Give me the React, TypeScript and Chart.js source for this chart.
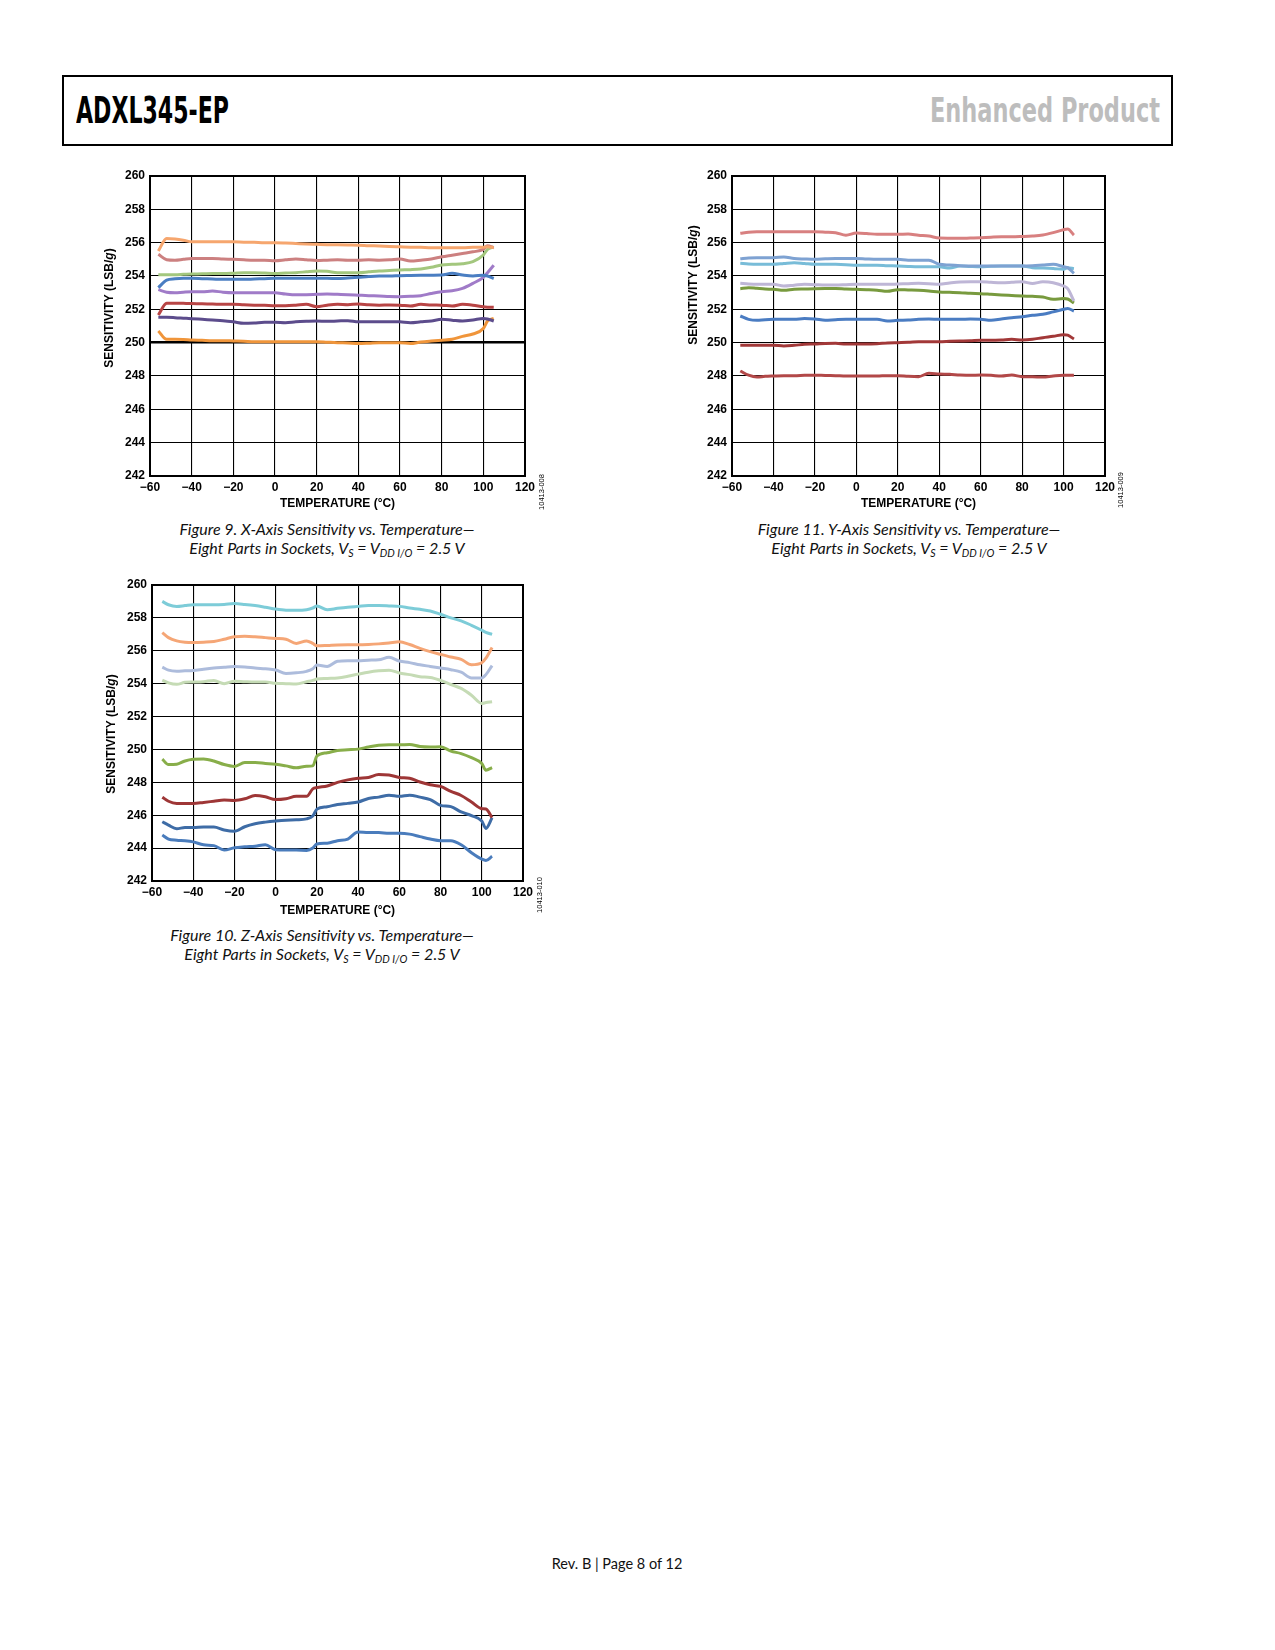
import React, { useEffect, useLayoutEffect, useRef } from 'react';
import { Chart, registerables } from 'chart.js';
Chart.register(...registerables);

// temperature sample points (°C)
const TEMPS = [-56, -52, -48, -44, -40, -35, -30, -25, -20, -15, -10, -5, 0, 5, 10, 15, 20, 25, 30, 35, 40, 45, 50, 55, 60, 65, 70, 75, 80, 85, 90, 95, 100, 102, 105];
const TEMPS_Z = [-55, -52, -48, -44, -40, -35, -30, -25, -20, -15, -10, -5, 0, 5, 10, 15, 18, 20, 25, 30, 35, 40, 45, 50, 55, 60, 65, 70, 75, 80, 85, 90, 95, 100, 102, 105];

const X_TICKS = [-60, -40, -20, 0, 20, 40, 60, 80, 100, 120];
const Y_TICKS = [242, 244, 246, 248, 250, 252, 254, 256, 258, 260];

// Figure 9, X axis (LSB/g)
const X1 = [255.5, 256.25, 256.22, 256.15, 256.05, 256.05, 256.05, 256.05, 256.05, 256.03, 256.02, 256.0, 256.0, 255.98, 255.95, 255.92, 255.9, 255.88, 255.87, 255.86, 255.85, 255.82, 255.8, 255.77, 255.75, 255.73, 255.72, 255.7, 255.7, 255.7, 255.7, 255.72, 255.73, 255.75, 255.7];
const X2 = [255.3, 254.98, 254.95, 255.0, 255.05, 255.05, 255.05, 255.02, 255.0, 254.97, 254.95, 254.95, 254.92, 254.97, 255.02, 254.98, 254.93, 254.95, 254.97, 254.95, 254.95, 254.97, 254.95, 254.97, 255.02, 254.9, 254.95, 255.02, 255.15, 255.25, 255.35, 255.45, 255.6, 255.82, 255.7];
const X3 = [254.08, 254.08, 254.08, 254.1, 254.12, 254.13, 254.15, 254.15, 254.17, 254.2, 254.2, 254.18, 254.15, 254.18, 254.2, 254.25, 254.3, 254.28, 254.2, 254.2, 254.2, 254.25, 254.3, 254.33, 254.36, 254.38, 254.42, 254.52, 254.66, 254.7, 254.74, 254.86, 255.26, 255.6, 255.75];
const X4 = [253.3, 253.75, 253.83, 253.86, 253.86, 253.84, 253.82, 253.8, 253.8, 253.8, 253.82, 253.84, 253.86, 253.86, 253.86, 253.86, 253.86, 253.86, 253.85, 253.88, 253.92, 253.97, 254.0, 254.0, 254.02, 254.03, 254.04, 254.05, 254.06, 254.16, 254.06, 254.0, 254.05, 254.0, 253.85];
const X5 = [253.18, 253.03, 253.0, 253.03, 253.05, 253.05, 253.1, 253.03, 253.0, 253.0, 253.0, 253.0, 253.0, 252.92, 252.87, 252.88, 252.9, 252.92, 252.9, 252.88, 252.85, 252.82, 252.8, 252.77, 252.76, 252.78, 252.82, 252.95, 253.06, 253.12, 253.26, 253.56, 253.92, 254.2, 254.65];
const X6 = [251.66, 252.36, 252.37, 252.36, 252.35, 252.33, 252.32, 252.3, 252.3, 252.27, 252.25, 252.24, 252.22, 252.22, 252.25, 252.3, 252.16, 252.25, 252.3, 252.28, 252.32, 252.27, 252.25, 252.26, 252.25, 252.2, 252.3, 252.26, 252.25, 252.2, 252.3, 252.25, 252.15, 252.13, 252.12];
const X7 = [251.52, 251.52, 251.5, 251.47, 251.44, 251.4, 251.36, 251.32, 251.25, 251.16, 251.18, 251.22, 251.22, 251.2, 251.25, 251.28, 251.3, 251.28, 251.3, 251.32, 251.25, 251.26, 251.25, 251.26, 251.25, 251.2, 251.25, 251.3, 251.4, 251.35, 251.3, 251.36, 251.45, 251.42, 251.3];
const X8 = [250.7, 250.2, 250.2, 250.19, 250.16, 250.14, 250.12, 250.12, 250.1, 250.08, 250.05, 250.06, 250.06, 250.05, 250.05, 250.06, 250.06, 250.03, 250.0, 249.98, 249.95, 249.97, 250.0, 250.0, 250.0, 249.95, 250.04, 250.1, 250.15, 250.2, 250.38, 250.52, 250.85, 251.3, 251.45];
const X_COLORS = ['#f6a66e', '#cc8080', '#a3c77e', '#4a7ec2', '#a07bc8', '#b84545', '#5c4c8c', '#f0953a'];

// Figure 11, Y axis (LSB/g)
const Y1 = [256.56, 256.62, 256.65, 256.66, 256.66, 256.65, 256.65, 256.65, 256.65, 256.63, 256.6, 256.45, 256.58, 256.55, 256.5, 256.5, 256.5, 256.52, 256.45, 256.4, 256.28, 256.27, 256.26, 256.28, 256.3, 256.33, 256.35, 256.35, 256.37, 256.4, 256.46, 256.6, 256.78, 256.82, 256.45];
const Y2 = [255.04, 255.08, 255.1, 255.1, 255.1, 255.14, 255.05, 255.02, 255.0, 255.03, 255.05, 255.05, 255.05, 255.02, 255.0, 255.0, 255.0, 254.95, 254.95, 254.95, 254.7, 254.66, 254.62, 254.6, 254.6, 254.6, 254.6, 254.6, 254.6, 254.62, 254.66, 254.7, 254.56, 254.5, 254.16];
const Y3 = [254.76, 254.72, 254.7, 254.7, 254.7, 254.75, 254.8, 254.75, 254.7, 254.7, 254.7, 254.68, 254.64, 254.64, 254.65, 254.62, 254.6, 254.57, 254.55, 254.55, 254.55, 254.48, 254.6, 254.57, 254.55, 254.58, 254.6, 254.6, 254.6, 254.5, 254.48, 254.45, 254.4, 254.5, 254.44];
const Y4 = [253.56, 253.52, 253.5, 253.5, 253.5, 253.4, 253.45, 253.5, 253.48, 253.46, 253.46, 253.48, 253.5, 253.5, 253.5, 253.5, 253.52, 253.54, 253.56, 253.54, 253.5, 253.58, 253.64, 253.65, 253.65, 253.62, 253.6, 253.62, 253.65, 253.55, 253.65, 253.6, 253.4, 253.24, 252.5];
const Y5 = [253.24, 253.3, 253.26, 253.22, 253.2, 253.14, 253.2, 253.22, 253.24, 253.25, 253.25, 253.22, 253.2, 253.18, 253.15, 253.08, 253.18, 253.16, 253.14, 253.1, 253.04, 253.02, 253.0, 252.96, 252.94, 252.9, 252.86, 252.83, 252.8, 252.78, 252.74, 252.6, 252.65, 252.62, 252.38];
const Y6 = [251.6, 251.4, 251.34, 251.38, 251.4, 251.4, 251.4, 251.45, 251.42, 251.35, 251.38, 251.4, 251.4, 251.4, 251.4, 251.3, 251.34, 251.36, 251.4, 251.42, 251.4, 251.4, 251.4, 251.42, 251.4, 251.34, 251.42, 251.5, 251.55, 251.64, 251.7, 251.85, 252.0, 252.05, 251.9];
const Y7 = [249.84, 249.84, 249.84, 249.85, 249.85, 249.8, 249.84, 249.9, 249.92, 249.95, 249.96, 249.92, 249.92, 249.92, 249.94, 249.98, 250.0, 250.02, 250.05, 250.06, 250.06, 250.08, 250.1, 250.12, 250.15, 250.14, 250.16, 250.2, 250.16, 250.2, 250.3, 250.38, 250.48, 250.45, 250.22];
const Y8 = [248.3, 248.05, 247.94, 247.98, 248.0, 248.02, 248.02, 248.04, 248.05, 248.03, 248.02, 248.0, 248.0, 248.0, 248.0, 248.02, 248.02, 247.98, 247.96, 248.16, 248.12, 248.1, 248.06, 248.04, 248.06, 248.04, 248.0, 248.06, 247.96, 247.95, 247.94, 248.0, 248.04, 248.04, 248.05];
const Y_COLORS = ['#d88080', '#7ea2d2', '#78bcd8', '#beb6d6', '#789a3e', '#4a7cc2', '#a23838', '#b24848'];

// Figure 10, Z axis (LSB/g)
const Z1 = [259.0, 258.8, 258.7, 258.75, 258.8, 258.8, 258.8, 258.82, 258.87, 258.82, 258.75, 258.65, 258.54, 258.47, 258.46, 258.5, 258.6, 258.72, 258.5, 258.58, 258.65, 258.7, 258.75, 258.75, 258.73, 258.7, 258.6, 258.52, 258.42, 258.22, 258.0, 257.82, 257.55, 257.25, 257.12, 257.0];
const Z2 = [257.1, 256.8, 256.6, 256.52, 256.5, 256.52, 256.56, 256.7, 256.86, 256.88, 256.85, 256.8, 256.75, 256.7, 256.45, 256.6, 256.45, 256.3, 256.32, 256.35, 256.36, 256.36, 256.38, 256.42, 256.48, 256.55, 256.38, 256.15, 255.95, 255.78, 255.62, 255.48, 255.15, 255.27, 255.55, 256.2];
const Z3 = [255.0, 254.82, 254.76, 254.78, 254.8, 254.88, 254.95, 255.0, 255.05, 255.02, 254.95, 254.9, 254.83, 254.62, 254.66, 254.75, 254.9, 255.13, 255.05, 255.36, 255.4, 255.4, 255.43, 255.45, 255.6, 255.38, 255.28, 255.15, 255.05, 254.95, 254.85, 254.7, 254.35, 254.35, 254.55, 255.1];
const Z4 = [254.22, 254.05, 253.96, 254.08, 254.1, 254.12, 254.2, 254.0, 254.15, 254.12, 254.1, 254.1, 254.02, 254.0, 253.98, 254.12, 254.2, 254.28, 254.32, 254.35, 254.45, 254.58, 254.7, 254.78, 254.82, 254.65, 254.55, 254.42, 254.38, 254.2, 253.95, 253.71, 253.3, 252.8, 252.85, 252.9];
const Z5 = [249.41, 249.08, 249.1, 249.3, 249.4, 249.42, 249.3, 249.08, 248.97, 249.2, 249.2, 249.15, 249.1, 249.0, 248.88, 248.98, 249.0, 249.6, 249.8, 249.94, 249.98, 250.02, 250.15, 250.26, 250.28, 250.28, 250.3, 250.18, 250.15, 250.16, 249.9, 249.75, 249.5, 249.15, 248.74, 248.9];
const Z6 = [247.1, 246.85, 246.72, 246.72, 246.72, 246.78, 246.85, 246.92, 246.9, 247.0, 247.2, 247.12, 246.95, 247.0, 247.15, 247.15, 247.6, 247.68, 247.78, 248.0, 248.15, 248.25, 248.3, 248.47, 248.45, 248.3, 248.25, 248.02, 247.85, 247.75, 247.45, 247.2, 246.8, 246.4, 246.38, 245.85];
const Z7 = [245.6, 245.4, 245.18, 245.25, 245.25, 245.28, 245.28, 245.1, 245.02, 245.3, 245.48, 245.58, 245.65, 245.7, 245.72, 245.78, 245.95, 246.37, 246.52, 246.65, 246.72, 246.8, 247.02, 247.1, 247.22, 247.15, 247.22, 247.1, 246.95, 246.6, 246.52, 246.2, 245.98, 245.65, 245.2, 245.85];
const Z8 = [244.8, 244.55, 244.48, 244.45, 244.38, 244.2, 244.15, 243.88, 244.02, 244.08, 244.12, 244.2, 243.9, 243.88, 243.88, 243.86, 244.0, 244.25, 244.3, 244.45, 244.55, 244.98, 244.95, 244.95, 244.9, 244.9, 244.85, 244.7, 244.55, 244.45, 244.45, 244.2, 243.72, 243.33, 243.25, 243.5];
const Z_COLORS = ['#7dccd8', '#f5a676', '#adbcdc', '#c5dbb5', '#88ae4a', '#9e3636', '#3e6ca6', '#4a7cbc'];

const AXIS_FONT = '"Liberation Sans", Arial, Helvetica, sans-serif';
const CAPTION_FONT = 'Lato, "Open Sans", sans-serif';
const HEAD_FONT = '"Liberation Sans Narrow", "DejaVu Sans Condensed", "Liberation Sans", sans-serif';

const Y_AXIS_W = 60;
const X_AXIS_H = 42;
const PAD_TOP = 14;
const PAD_RIGHT = 26;

type Rect = { left: number; top: number; width: number; height: number };
type Pt = { x: number; y: number };

type ChartProps = {
  temps: number[];
  series: number[][];
  colors: string[];
  plot: Rect;
  yTitle: Pt;
  code: string;
  codePos: Pt;
  xTitleY: number;
  boldLine?: number;
};

const fmtTick = (v: number) => (v < 0 ? '\u2212' + Math.abs(v) : String(v));

const SensitivityChart = ({ temps, series, colors, plot, yTitle, code, codePos, xTitleY, boldLine }: ChartProps) => {
  const ref = useRef<HTMLCanvasElement>(null);
  const cLeft = plot.left - Y_AXIS_W;
  const cTop = plot.top - PAD_TOP;
  const cW = Y_AXIS_W + plot.width + PAD_RIGHT;
  const cH = PAD_TOP + plot.height + X_AXIS_H;

  useEffect(() => {
    if (!ref.current) return;
    const extras = {
      id: 'extras',
      afterDraw(chart: Chart) {
        const { ctx, chartArea } = chart;
        ctx.save();
        ctx.strokeStyle = '#000';
        ctx.lineWidth = 2;
        ctx.strokeRect(chartArea.left, chartArea.top, chartArea.right - chartArea.left, chartArea.bottom - chartArea.top);

        // y title with italic g
        const parts = [
          { t: 'SENSITIVITY (LSB/', f: `bold 12px ${AXIS_FONT}` },
          { t: 'g', f: `italic bold 12px ${AXIS_FONT}` },
          { t: ')', f: `bold 12px ${AXIS_FONT}` },
        ];
        let total = 0;
        parts.forEach((p) => {
          ctx.font = p.f;
          total += ctx.measureText(p.t).width;
        });
        ctx.translate(yTitle.x - cLeft, yTitle.y - cTop);
        ctx.rotate(-Math.PI / 2);
        ctx.fillStyle = '#000';
        ctx.textBaseline = 'middle';
        ctx.textAlign = 'left';
        let x = -total / 2;
        parts.forEach((p) => {
          ctx.font = p.f;
          ctx.fillText(p.t, x, 0);
          x += ctx.measureText(p.t).width;
        });
        ctx.restore();

        ctx.save();
        ctx.translate(codePos.x - cLeft, codePos.y - cTop);
        ctx.rotate(-Math.PI / 2);
        ctx.font = `7.5px ${AXIS_FONT}`;
        ctx.fillStyle = '#000';
        ctx.textAlign = 'center';
        ctx.textBaseline = 'middle';
        ctx.fillText(code, 0, 0);
        ctx.restore();
      },
    };

    const titleOffset = xTitleY - (plot.top + plot.height);
    const chart = new Chart(ref.current, {
      type: 'line',
      data: {
        datasets: series.map((s, i) => ({
          data: temps.map((t, k) => ({ x: t, y: s[k] })),
          borderColor: colors[i],
          backgroundColor: colors[i],
          borderWidth: 3,
          pointRadius: 0,
          cubicInterpolationMode: 'monotone',
          fill: false,
        })),
      },
      options: {
        animation: false,
        responsive: false,
        maintainAspectRatio: false,
        events: [],
        layout: { padding: { left: 0, top: PAD_TOP, right: PAD_RIGHT, bottom: 0 } },
        plugins: { legend: { display: false }, tooltip: { enabled: false } },
        scales: {
          x: {
            type: 'linear',
            min: -60,
            max: 120,
            afterBuildTicks: (axis: any) => {
              axis.ticks = X_TICKS.map((v) => ({ value: v }));
            },
            afterFit: (axis: any) => {
              axis.height = X_AXIS_H;
            },
            ticks: {
              color: '#000',
              font: { family: AXIS_FONT, size: 12, weight: 'bold' },
              padding: 4,
              maxRotation: 0,
              autoSkip: false,
              callback: (v: any) => fmtTick(Number(v)),
            },
            grid: { color: '#000', lineWidth: 1.1, drawTicks: false },
            border: { display: false },
            title: {
              display: true,
              text: 'TEMPERATURE (\u00B0C)',
              color: '#000',
              font: { family: AXIS_FONT, size: 12, weight: 'bold' },
              padding: { top: 0, bottom: X_AXIS_H - 7.2 - titleOffset },
            },
          },
          y: {
            type: 'linear',
            min: 242,
            max: 260,
            afterBuildTicks: (axis: any) => {
              axis.ticks = Y_TICKS.map((v) => ({ value: v }));
            },
            afterFit: (axis: any) => {
              axis.width = Y_AXIS_W;
            },
            ticks: {
              color: '#000',
              font: { family: AXIS_FONT, size: 12, weight: 'bold' },
              padding: 5,
              autoSkip: false,
            },
            grid: {
              color: '#000',
              drawTicks: false,
              lineWidth: (c: any) => (boldLine !== undefined && c.tick && c.tick.value === boldLine ? 2.4 : 1.1),
            },
            border: { display: false },
          },
        },
      },
      plugins: [extras],
    });
    return () => chart.destroy();
    // eslint-disable-next-line
  }, []);

  return (
    <canvas
      ref={ref}
      width={cW}
      height={cH}
      style={{ position: 'absolute', left: cLeft, top: cTop, width: cW, height: cH }}
    />
  );
};

type FitProps = { text: string; left: number; top: number; width: number; style: React.CSSProperties };

// stretches a single line of text to a measured width
const FitText = ({ text, left, top, width, style }: FitProps) => {
  const ref = useRef<HTMLSpanElement>(null);
  useLayoutEffect(() => {
    const el = ref.current;
    if (!el) return;
    el.style.transform = 'none';
    const w = el.getBoundingClientRect().width;
    if (w > 0) el.style.transform = `scaleX(${width / w})`;
  }, [text, width]);
  return (
    <span
      ref={ref}
      style={{ position: 'absolute', left, top, whiteSpace: 'nowrap', transformOrigin: 'left center', lineHeight: 1, ...style }}
    >
      {text}
    </span>
  );
};

const subStyle: React.CSSProperties = { fontSize: '0.66em', verticalAlign: '-0.25em', lineHeight: 0 };

const Caption = ({ cx, top, fig, axis }: { cx: number; top: number; fig: number; axis: string }) => (
  <div
    style={{
      position: 'absolute',
      left: cx - 200,
      top,
      width: 400,
      textAlign: 'center',
      fontFamily: CAPTION_FONT,
      fontStyle: 'italic',
      fontSize: 16,
      lineHeight: '18.5px',
      color: '#111',
    }}
  >
    <div>Figure {fig}. {axis}-Axis Sensitivity vs. Temperature—</div>
    <div>
      Eight Parts in Sockets, V<sub style={subStyle}>S</sub> = V<sub style={subStyle}>DD I/O</sub> = 2.5 V
    </div>
  </div>
);

const App = () => {
  return (
    <div style={{ position: 'absolute', left: 0, top: 0, width: 1275, height: 1650, background: '#fff', overflow: 'hidden' }}>
      <div
        style={{
          position: 'absolute',
          left: 62,
          top: 75,
          width: 1111,
          height: 71,
          boxSizing: 'border-box',
          border: '2px solid #000',
        }}
      />
      <FitText
        text="ADXL345-EP"
        left={76}
        top={91}
        width={153}
        style={{ fontFamily: HEAD_FONT, fontWeight: 'bold', fontSize: 38, color: '#000' }}
      />
      <FitText
        text="Enhanced Product"
        left={930}
        top={93}
        width={230}
        style={{ fontFamily: HEAD_FONT, fontWeight: 'bold', fontSize: 34, color: '#bdbdbd' }}
      />

      <SensitivityChart
        temps={TEMPS}
        series={[X1, X2, X3, X4, X5, X6, X7, X8]}
        colors={X_COLORS}
        plot={{ left: 150, top: 176, width: 375, height: 300 }}
        yTitle={{ x: 110, y: 308 }}
        code="10413-008"
        codePos={{ x: 542, y: 492 }}
        xTitleY={504}
        boldLine={250}
      />
      <Caption cx={327} top={520} fig={9} axis="X" />

      <SensitivityChart
        temps={TEMPS}
        series={[Y1, Y2, Y3, Y4, Y5, Y6, Y7, Y8]}
        colors={Y_COLORS}
        plot={{ left: 732, top: 176, width: 373, height: 300 }}
        yTitle={{ x: 694, y: 285 }}
        code="10413-009"
        codePos={{ x: 1121, y: 490 }}
        xTitleY={504}
      />
      <Caption cx={909} top={520} fig={11} axis="Y" />

      <SensitivityChart
        temps={TEMPS_Z}
        series={[Z1, Z2, Z3, Z4, Z5, Z6, Z7, Z8]}
        colors={Z_COLORS}
        plot={{ left: 152, top: 585, width: 371, height: 296 }}
        yTitle={{ x: 112, y: 734 }}
        code="10413-010"
        codePos={{ x: 540, y: 895 }}
        xTitleY={911}
      />
      <Caption cx={322} top={926} fig={10} axis="Z" />

      <div
        style={{
          position: 'absolute',
          left: 417,
          top: 1555,
          width: 400,
          textAlign: 'center',
          fontFamily: CAPTION_FONT,
          fontSize: 14.5,
          lineHeight: '18px',
          color: '#111',
        }}
      >
        Rev. B | Page 8 of 12
      </div>
    </div>
  );
};

export default App;
